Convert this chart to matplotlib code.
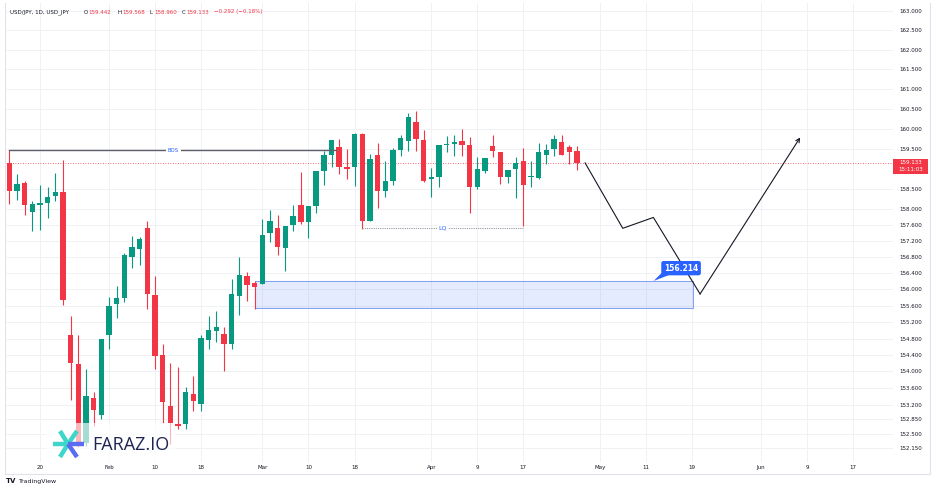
import numpy as np
import matplotlib
matplotlib.use('Agg')
import matplotlib.pyplot as plt
from matplotlib.patches import Rectangle, Polygon
from matplotlib.lines import Line2D
from matplotlib.ticker import NullLocator

# daily candles (oldest first)
opens = [159.15, 158.43, 158.65, 157.92, 158.08, 158.14, 158.31, 158.41, 154.88, 154.19,
         152.27, 153.36, 152.94, 154.89, 155.65, 155.79, 156.79, 157.00, 157.53, 155.86,
         154.39, 153.16, 152.74, 152.72, 153.45, 153.22, 154.77, 154.98, 154.92, 154.66,
         155.85, 156.32, 156.15, 156.14, 157.40, 157.53, 157.02, 157.58, 158.10, 157.67,
         158.06, 158.93, 159.34, 159.55, 159.05, 159.03, 159.87, 157.69, 159.35, 158.44,
         158.69, 159.47, 159.70, 160.18, 159.72, 158.75, 158.79, 159.59, 159.62, 159.70,
         159.60, 158.55, 158.94, 159.57, 159.41, 158.80, 158.99, 159.18, 158.79, 158.77,
         159.35, 159.48, 159.66, 159.55, 159.442]
highs = [159.46, 158.87, 158.70, 158.18, 158.60, 158.54, 158.90, 159.22, 155.35, 154.88,
         154.07, 153.50, 154.78, 155.81, 156.08, 156.91, 157.33, 157.30, 157.68, 156.32,
         154.66, 154.21, 154.10, 153.63, 153.90, 154.88, 155.34, 155.47, 155.07, 156.25,
         156.80, 156.42, 156.22, 157.75, 157.96, 157.85, 157.56, 158.10, 158.91, 158.06,
         158.95, 159.43, 159.72, 159.74, 159.49, 159.89, 159.89, 159.37, 159.64, 159.18,
         159.51, 159.85, 160.39, 160.45, 159.97, 159.01, 159.60, 159.82, 159.85, 160.00,
         159.78, 159.28, 159.27, 159.85, 159.41, 158.97, 159.30, 159.52, 159.20, 159.63,
         159.62, 159.84, 159.84, 159.59, 159.568]
lows = [158.12, 158.22, 157.83, 157.44, 157.48, 157.77, 158.19, 155.61, 153.30, 152.18,
        152.20, 152.68, 152.86, 154.55, 155.30, 155.69, 156.52, 156.60, 155.53, 154.06,
        152.76, 152.26, 152.62, 152.62, 153.05, 153.04, 154.55, 154.72, 154.01, 154.54,
        155.37, 155.71, 155.53, 156.14, 157.17, 156.86, 156.45, 157.44, 157.61, 157.28,
        157.88, 158.58, 159.05, 158.87, 158.73, 158.56, 157.50, 157.69, 158.02, 158.29,
        158.58, 159.31, 159.45, 159.45, 158.66, 158.29, 158.54, 159.42, 159.31, 159.31,
        157.89, 158.50, 158.89, 159.28, 158.62, 158.65, 158.27, 157.56, 158.55, 158.75,
        159.12, 159.31, 159.33, 159.11, 158.960]
closes = [158.43, 158.62, 158.10, 158.12, 158.13, 158.29, 158.42, 155.73, 154.21, 152.25,
          153.40, 153.07, 154.78, 155.59, 155.79, 156.85, 157.04, 157.24, 155.88, 154.37,
          153.25, 152.75, 152.69, 153.51, 153.29, 154.82, 155.00, 155.08, 154.66, 155.90,
          156.36, 156.12, 156.06, 157.35, 157.69, 157.04, 157.56, 157.82, 157.67, 158.06,
          158.95, 159.34, 159.72, 159.03, 158.99, 159.87, 157.69, 159.23, 158.44, 158.70,
          159.47, 159.76, 160.30, 159.74, 158.70, 158.79, 159.60, 159.62, 159.67, 159.60,
          158.55, 158.99, 159.27, 159.43, 158.80, 158.97, 159.14, 158.60, 158.82, 159.41,
          159.47, 159.73, 159.34, 159.41, 159.133]

last_price = 159.133
bos_level = 159.46
lq_level = 157.52
zone_top = 156.214
zone_bottom = 155.55

# projected path (bar index, price)
path_x = [75.06, 79.97, 83.96, 90.05, 103.1]
path_y = [159.14, 157.51, 157.78, 155.89, 159.78]

price_ticks = [163.0, 162.5, 162.0, 161.5, 161.0, 160.5, 160.0, 159.5, 158.5, 158.0,
               157.6, 157.2, 156.8, 156.4, 156.0, 155.6, 155.2, 154.8, 154.4, 154.0,
               153.6, 153.2, 152.85, 152.5, 152.15]
date_ticks = [4, 13, 19, 25, 33, 39, 45, 55, 61, 67, 77, 83, 89, 98, 104, 110]
date_labels = ['20', 'Feb', '10', '18', 'Mar', '10', '18', 'Apr', '9', '17',
               'May', '11', '19', 'Jun', '9', '17']

GREEN = '#089981'
RED = '#F23645'
BLUE = '#2962FF'
DARK = '#131722'

W, H = 936, 492
fig = plt.figure(figsize=(W / 100, H / 100), dpi=100)

def fx(x):
    return x / W

def fy(y):
    return 1 - y / H

ax = fig.add_axes([fx(5), fy(462), fx(893) - fx(5), fy(3) - fy(462)])
ax.set_yscale('log')
ax.set_ylim(151.82, 163.198)
ax.set_xlim(-0.565, 115.2)

# candles
o = np.array(opens)
c = np.array(closes)
idx = np.arange(len(o))
cols = np.where(c >= o, GREEN, RED)
ax.vlines(idx, lows, highs, colors=cols, lw=0.8, zorder=3)
ax.bar(idx, np.maximum(np.abs(c - o), 0.025), bottom=np.minimum(o, c), width=0.7,
       color=cols, linewidth=0, zorder=4)

# current price line
ax.axhline(last_price, color=RED, lw=0.6, ls=(0, (1, 2)), zorder=2)

# BOS line
ax.plot([0, 42.6], [bos_level, bos_level], color='#5d606b', lw=1.0, zorder=5)
ax.text(21.4, bos_level, 'BOS', color=BLUE, fontsize=4, ha='center', va='center', zorder=6,
        bbox=dict(fc='white', ec='none', pad=1.2))

# LQ line
ax.plot([46, 67], [lq_level, lq_level], color='#9598a1', lw=0.8, ls=(0, (1, 1)), zorder=5)
ax.text(56.5, lq_level, 'LQ', color=BLUE, fontsize=4.5, ha='center', va='center', zorder=6,
        bbox=dict(fc='white', ec='none', pad=1.0))

# demand zone
ax.add_patch(Rectangle((32, zone_bottom), 89.1 - 32, zone_top - zone_bottom,
                       fc=BLUE, alpha=0.12, ec='none', zorder=1))
ax.add_patch(Rectangle((32, zone_bottom), 89.1 - 32, zone_top - zone_bottom,
                       fc='none', ec='#7f9ff5', lw=0.7, zorder=1))

# projected path
ax.plot(path_x[:-1], path_y[:-1], color=DARK, lw=0.8, zorder=6)
ax.annotate('', xy=(path_x[-1], path_y[-1]), xytext=(path_x[-2], path_y[-2]),
            arrowprops=dict(arrowstyle='->', color=DARK, lw=0.8, shrinkA=0, shrinkB=0,
                            mutation_scale=7), zorder=6)

# price callout
ax.add_patch(Polygon([[84.0, 156.21], [85.0, 156.40], [86.6, 156.40]], closed=True,
                     fc=BLUE, ec='none', zorder=7))
ax.text(87.57, 156.525, '156.214', color='white', fontsize=5.5, fontweight='bold',
        ha='center', va='center', zorder=8,
        bbox=dict(boxstyle='round,pad=0.35,rounding_size=0.3', fc=BLUE, ec='none'))

# axes styling
ax.set_yticks(price_ticks)
ax.yaxis.set_minor_locator(NullLocator())
ax.set_yticklabels(['%.3f' % v for v in price_ticks])
ax.yaxis.tick_right()
ax.set_xticks(date_ticks)
ax.set_xticklabels(date_labels)
ax.tick_params(axis='both', length=0, labelsize=4, labelcolor=DARK)
ax.tick_params(axis='y', pad=4.5)
ax.tick_params(axis='x', pad=2.5)
ax.grid(True, color='#eff1f5', lw=0.7, zorder=0)
ax.set_axisbelow(True)
for s in ax.spines.values():
    s.set_visible(False)

# outer frame
frame = '#e0e3eb'
fig.add_artist(Line2D([fx(5), fx(930)], [fy(474), fy(474)], color=frame, lw=0.8,
                      transform=fig.transFigure))
fig.add_artist(Line2D([fx(5), fx(5)], [fy(3), fy(474)], color=frame, lw=0.8,
                      transform=fig.transFigure))
fig.add_artist(Line2D([fx(930), fx(930)], [fy(3), fy(474)], color=frame, lw=0.8,
                      transform=fig.transFigure))

# last price label on the scale
fig.add_artist(Rectangle((fx(893), fy(174)), fx(928) - fx(893), fy(159) - fy(174),
                         transform=fig.transFigure, fc=RED, ec='none', zorder=10))
fig.text(fx(910.5), fy(163), '159.133', color='white', fontsize=4, ha='center', va='center',
         zorder=11)
fig.text(fx(910.5), fy(170), '15:11:03', color='white', fontsize=4, ha='center', va='center',
         zorder=11)

# header
fig.text(fx(10), fy(12), 'USD/JPY, 1D, USD_JPY', color=DARK, fontsize=4, va='center')
hdr = [(84, 'O', DARK), (88, '159.442', RED), (118, 'H', DARK), (122, '159.568', RED),
       (150, 'L', DARK), (154, '158.960', RED), (182, 'C', DARK), (186, '159.133', RED),
       (214, '\u22120.292 (\u22120.18%)', RED)]
for x, s, col in hdr:
    fig.text(fx(x), fy(12), s, color=col, fontsize=4, va='center')

# watermark logo with faded backdrop
fig.add_artist(Rectangle((fx(45), fy(462)), fx(175) - fx(45), fy(423) - fy(462),
                         transform=fig.transFigure, fc='white', alpha=0.65, ec='none', zorder=3))
cx, cy = 68, 444
arms = [((53, 444), '#3dd6c8'), ((60, 431), '#3dd6c8'), ((77, 431), '#3dd6c8'),
        ((60, 457), '#3dd6c8'), ((84, 444), '#5b6cf0'), ((77, 457), '#5b6cf0')]
for (ex, ey), col in arms:
    fig.add_artist(Line2D([fx(cx), fx(ex)], [fy(cy), fy(ey)], color=col, lw=3.2,
                          solid_capstyle='butt', transform=fig.transFigure, zorder=4))
fig.text(fx(92), fy(445), 'FARAZ.IO', color='#1f2550', fontsize=13, va='center',
         family='Open Sans', zorder=5)

# TradingView mark
fig.text(fx(6), fy(481), 'TV', color=DARK, fontsize=5, fontweight='bold', va='center')
fig.text(fx(19), fy(481), 'TradingView', color=DARK, fontsize=4.5, va='center')

fig.savefig('out.png', dpi=100)
